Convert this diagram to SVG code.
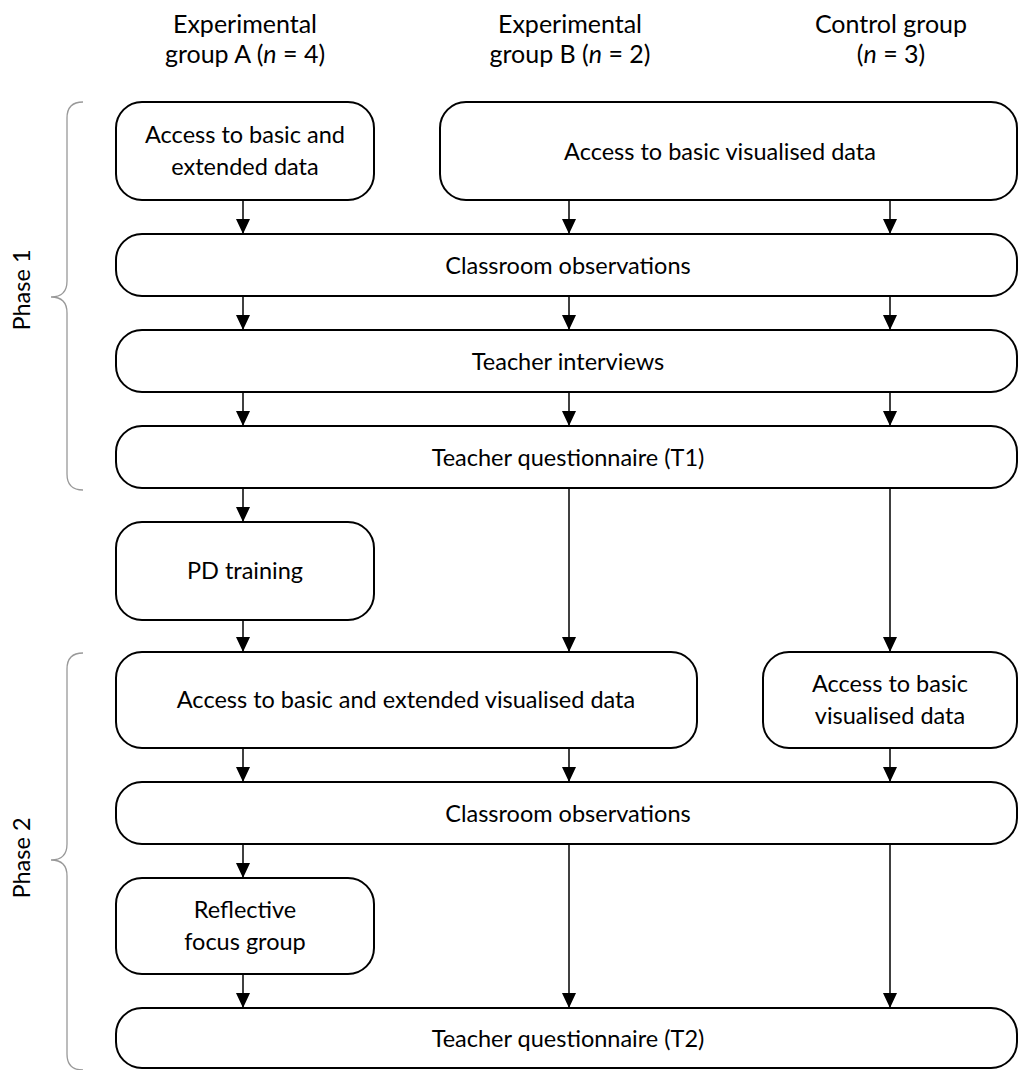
<svg xmlns="http://www.w3.org/2000/svg" width="1021" height="1070" viewBox="0 0 1021 1070">
<style>
.box{fill:#fff;stroke:#000;stroke-width:2}
.t{font-family:Lato,"Open Sans","Liberation Sans",sans-serif;font-size:23.5px;fill:#000;text-anchor:middle}
.h{font-family:Lato,"Open Sans","Liberation Sans",sans-serif;font-size:25px;fill:#000;text-anchor:middle}
.c{stroke:#000;stroke-width:1.5;fill:none;marker-end:url(#ah)}
.br{stroke:#999;stroke-width:1.3;fill:none}
</style>
<defs>
<marker id="ah" markerUnits="userSpaceOnUse" markerWidth="15" markerHeight="14" viewBox="0 0 15 14" refX="15" refY="7" orient="auto">
<path d="M0,0 L15,7 L0,14 Z" fill="#000"/>
</marker>
</defs>
<rect width="1021" height="1070" fill="#fff"/>
<g id="headers">
<text class="h" x="245" y="33">Experimental</text>
<text class="h" x="245" y="63">group A (<tspan font-style="italic">n</tspan> = 4)</text>
<text class="h" x="570" y="33">Experimental</text>
<text class="h" x="570" y="63">group B (<tspan font-style="italic">n</tspan> = 2)</text>
<text class="h" x="891" y="33">Control group</text>
<text class="h" x="891" y="63">(<tspan font-style="italic">n</tspan> = 3)</text>
</g>
<g id="phase1">
<path class="br" d="M83,102 Q67,102 67,118 L67,281 Q67,297 51,297 Q67,297 67,313 L67,474 Q67,490 83,490"/>
<text class="t" transform="translate(30,290) rotate(-90)">Phase 1</text>
</g>
<g id="phase2">
<path class="br" d="M83,653 Q67,653 67,669 L67,844 Q67,860 51,860 Q67,860 67,876 L67,1054 Q67,1070 83,1070"/>
<text class="t" transform="translate(30,858) rotate(-90)">Phase 2</text>
</g>
<g id="connectors">
<line class="c" x1="243" y1="200" x2="243" y2="234"/>
<line class="c" x1="243" y1="296" x2="243" y2="330"/>
<line class="c" x1="243" y1="392" x2="243" y2="426"/>
<line class="c" x1="243" y1="488" x2="243" y2="522"/>
<line class="c" x1="243" y1="620" x2="243" y2="652"/>
<line class="c" x1="243" y1="748" x2="243" y2="782"/>
<line class="c" x1="243" y1="844" x2="243" y2="878"/>
<line class="c" x1="243" y1="974" x2="243" y2="1008"/>
<line class="c" x1="569" y1="200" x2="569" y2="234"/>
<line class="c" x1="569" y1="296" x2="569" y2="330"/>
<line class="c" x1="569" y1="392" x2="569" y2="426"/>
<line class="c" x1="569" y1="488" x2="569" y2="652"/>
<line class="c" x1="569" y1="748" x2="569" y2="782"/>
<line class="c" x1="569" y1="844" x2="569" y2="1008"/>
<line class="c" x1="890" y1="200" x2="890" y2="234"/>
<line class="c" x1="890" y1="296" x2="890" y2="330"/>
<line class="c" x1="890" y1="392" x2="890" y2="426"/>
<line class="c" x1="890" y1="488" x2="890" y2="652"/>
<line class="c" x1="890" y1="748" x2="890" y2="782"/>
<line class="c" x1="890" y1="844" x2="890" y2="1008"/>
</g>
<g id="n1"><rect class="box" x="116" y="102" width="258" height="98" rx="26"/>
<text class="t" x="245" y="143">Access to basic and</text><text class="t" x="245" y="175">extended data</text></g>
<g id="n2"><rect class="box" x="440" y="102" width="577" height="98" rx="26"/>
<text class="t" x="720" y="160">Access to basic visualised data</text></g>
<g id="n3"><rect class="box" x="116" y="234" width="901" height="62" rx="26"/>
<text class="t" x="568" y="274">Classroom observations</text></g>
<g id="n4"><rect class="box" x="116" y="330" width="901" height="62" rx="26"/>
<text class="t" x="568" y="370">Teacher interviews</text></g>
<g id="n5"><rect class="box" x="116" y="426" width="901" height="62" rx="26"/>
<text class="t" x="568" y="466">Teacher questionnaire (T1)</text></g>
<g id="n6"><rect class="box" x="116" y="522" width="258" height="98" rx="26"/>
<text class="t" x="245" y="579">PD training</text></g>
<g id="n7"><rect class="box" x="116" y="652" width="581" height="96" rx="26"/>
<text class="t" x="406" y="708">Access to basic and extended visualised data</text></g>
<g id="n8"><rect class="box" x="763" y="652" width="254" height="96" rx="26"/>
<text class="t" x="890" y="692">Access to basic</text><text class="t" x="890" y="724">visualised data</text></g>
<g id="n9"><rect class="box" x="116" y="782" width="901" height="62" rx="26"/>
<text class="t" x="568" y="822">Classroom observations</text></g>
<g id="n10"><rect class="box" x="116" y="878" width="258" height="96" rx="26"/>
<text class="t" x="245" y="918">Reflective</text><text class="t" x="245" y="950">focus group</text></g>
<g id="n11"><rect class="box" x="116" y="1008" width="901" height="60" rx="26"/>
<text class="t" x="568" y="1047">Teacher questionnaire (T2)</text></g>
</svg>
